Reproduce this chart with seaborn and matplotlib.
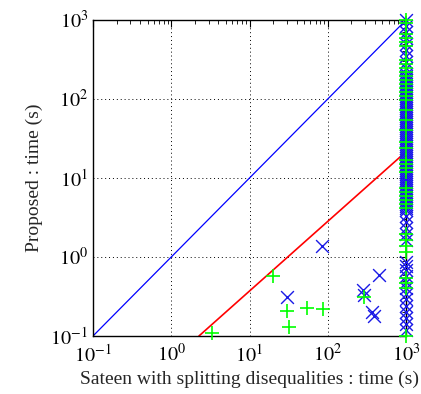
import numpy as np
import pandas as pd
import matplotlib
matplotlib.use("Agg")
import matplotlib.pyplot as plt
import seaborn as sns

# Off-column points (blue x)
blue_x = [84, 30, 281, 290, 450, 366, 385]
blue_y = [1.38, 0.31, 0.38, 0.33, 0.59, 0.20, 0.18]
# Off-column points (green +)
green_x = [20, 30, 32, 54, 86, 290, 3.3]
green_y = [0.575, 0.21, 0.13, 0.226, 0.22, 0.31, 0.11]

# Timeout column at x = 1000
timeout_x = 1000
blue_col_y = [1000, 840, 705, 592, 497, 417, 350, 294, 247, 207,
              195, 184, 174, 164, 155, 146, 138, 130, 123, 116, 109, 103,
              97, 92, 87, 82, 77, 73, 69, 65, 61, 58, 54, 51, 48, 46, 43,
              41, 38, 36, 34, 32, 30, 28.6, 27, 25.4, 24, 22.6, 21.3, 20.1,
              19, 17.9, 16.9, 15.9, 15, 14.2, 13.4, 12.6, 11.9, 11.2, 10.6,
              10, 9.4, 8.9, 8.4, 7.9, 7.4, 7.0, 6.6, 6.3, 5.9, 5.6, 5.3,
              5.0, 4.7, 4.4, 4.2, 3.9,
              3.3, 2.76, 2.32, 1.95, 1.64,
              0.86, 0.77, 0.68, 0.57, 0.48, 0.41, 0.34, 0.29, 0.24, 0.20,
              0.17, 0.14, 0.12]
green_col_y = [1000, 916, 665, 592, 527, 469, 312, 277, 247, 220, 196, 174,
               155, 138, 123, 109, 97, 73, 54, 40.5, 28.6, 24, 16.9, 15,
               13.4, 11.9, 7.5, 6.65, 5.9, 5.27, 4.69, 4.17, 1.95, 1.64,
               1.38, 1.16, 0.54, 0.47, 0.41, 0.1]

# Reference lines
diag_x = [0.1, 1000]
diag_y = [0.1, 1000]
fit_x = [2.26, 1000]
fit_y = [0.1, 21.5]

tick_vals = [0.1, 1, 10, 100, 1000]
tick_labels = [r"$10^{-1}$", r"$10^{0}$", r"$10^{1}$", r"$10^{2}$", r"$10^{3}$"]

sns.set_style("white")
plt.rcParams["font.family"] = ["Liberation Serif", "DejaVu Serif"]
plt.rcParams["mathtext.fontset"] = "stix"

fig = plt.figure(figsize=(4.21, 3.94), dpi=100)
ax = fig.add_axes([93/421, 1-336/394, (406-93)/421, (336-20)/394])
ax.set_xscale("log")
ax.set_yscale("log")

blue_df = pd.DataFrame({"x": blue_x + [timeout_x]*len(blue_col_y),
                        "y": blue_y + blue_col_y})
green_df = pd.DataFrame({"x": green_x + [timeout_x]*len(green_col_y),
                         "y": green_y + green_col_y})

sns.lineplot(x=diag_x, y=diag_y, ax=ax, color="#0000ff", lw=0.9, zorder=2)
sns.lineplot(x=fit_x, y=fit_y, ax=ax, color="#ff0000", lw=1.2, zorder=2)
sns.scatterplot(data=blue_df, x="x", y="y", ax=ax, marker="x", color="#1a1ae6",
                s=85, linewidth=1.0, zorder=3, clip_on=False)
sns.scatterplot(data=green_df, x="x", y="y", ax=ax, marker="+", color="#00ff00",
                s=95, linewidth=1.2, zorder=4, clip_on=False)

ax.set_xlim(0.1, 1000)
ax.set_ylim(0.1, 1000)
ax.set_xticks(tick_vals)
ax.set_xticklabels(tick_labels)
ax.set_yticks(tick_vals)
ax.set_yticklabels(tick_labels)
ax.tick_params(which="both", direction="in", top=True, right=True,
               labelsize=14.5, colors="black")
ax.tick_params(which="major", length=5, width=0.8)
ax.tick_params(which="minor", length=3, width=0.6)
ax.tick_params(axis="x", pad=6)
ax.grid(True, which="major", linestyle=(0, (1, 3)), color="black", lw=0.7)
ax.grid(False, which="minor")
for sp in ax.spines.values():
    sp.set_color("black")
    sp.set_linewidth(1.0)

ax.set_xlabel("Sateen with splitting disequalities : time (s)", fontsize=14, labelpad=3)
ax.set_ylabel("Proposed : time (s)", fontsize=14, labelpad=5)

fig.savefig("out.png", dpi=100)
